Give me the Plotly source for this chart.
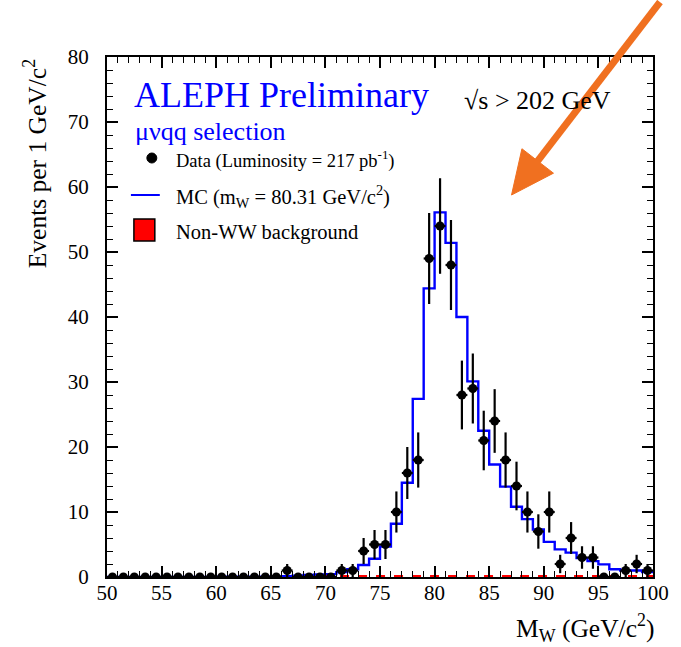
import plotly.graph_objects as go
import numpy as np

# ---------------- data ----------------
bin_low = list(range(50, 100))  # 1 GeV bins from 50 to 100
data_counts = [0]*16 + [1, 0, 0, 0, 0, 1, 1, 4, 5, 5, 10, 16, 18, 49, 54, 48, 28, 29,
                        21, 24, 18, 14, 10, 7, 10, 2, 6, 3, 3, 0, 0, 1, 2, 1]
mc_values = [0.02]*10 + [0.05]*5 + [0.1, 0.12, 0.2, 0.3, 0.4, 0.45, 0.75, 1.2, 1.85, 2.8,
                                    4.7, 8.2, 14.5, 27.4, 44.4, 56.1, 51.4, 40.0, 30.1, 22.5,
                                    17.3, 13.9, 10.8, 8.9, 7.3, 5.4, 4.25, 3.75, 2.9, 2.45,
                                    1.95, 1.2, 1.0, 1.0, 0.75]
bkg_values = [0.0]*15 + [0.15]*35
x_ticks = [50, 55, 60, 65, 70, 75, 80, 85, 90, 95, 100]
y_ticks = [0, 10, 20, 30, 40, 50, 60, 70, 80]

centers = [b + 0.5 for b in bin_low]
errs = [float(np.sqrt(c)) for c in data_counts]
edges = bin_low + [100]

FONT = "Liberation Serif"

fig = go.Figure()

# background (non-WW)
fig.add_trace(go.Scatter(x=edges, y=bkg_values + [bkg_values[-1]], mode="lines",
                         line=dict(shape="hv", color="red", width=2, dash="dash"),
                         showlegend=False, hoverinfo="skip"))
# MC histogram
fig.add_trace(go.Scatter(x=edges, y=mc_values + [mc_values[-1]], mode="lines",
                         line=dict(shape="hv", color="#0000FF", width=2.4),
                         showlegend=False))
# data
fig.add_trace(go.Scatter(x=centers, y=data_counts, mode="markers",
                         marker=dict(color="black", size=9),
                         error_y=dict(type="data", array=errs, color="black", thickness=2.2, width=0),
                         error_x=dict(type="constant", value=0.5, color="black", thickness=2.2, width=0),
                         showlegend=False))
# dummy trace so the mirrored (top/right) tick axes are drawn
fig.add_trace(go.Scatter(x=[None], y=[None], xaxis="x2", yaxis="y2", showlegend=False,
                         hoverinfo="skip"))

# ---------- geometry helpers (pixel -> paper) ----------
L, R, T, B = 107, 655, 57, 577
W, H = R - L, B - T
def px(x):
    return (x - L) / W
def py(y):
    return (B - y) / H

shapes = []
# legend symbols
shapes.append(dict(type="circle", xref="paper", yref="paper",
                   x0=px(147), x1=px(157), y0=py(163), y1=py(153),
                   fillcolor="black", line=dict(color="black", width=1)))
shapes.append(dict(type="line", xref="paper", yref="paper",
                   x0=px(131), x1=px(160), y0=py(195), y1=py(195),
                   line=dict(color="#0000FF", width=2)))
shapes.append(dict(type="rect", xref="paper", yref="paper",
                   x0=px(134), x1=px(155), y0=py(241), y1=py(219),
                   fillcolor="#FF0000", line=dict(color="black", width=1.5)))

# orange arrow overlay
tail = np.array([662.0, 2.0])
tip = np.array([513.0, 195.0])
d = (tip - tail) / np.linalg.norm(tip - tail)
perp = np.array([d[1], -d[0]])
HL, HW = 43.0, 20.0
base = tip - HL * d
c1 = base + HW * perp
c2 = base - HW * perp
line_end = tip - (HL - 4) * d
shapes.append(dict(type="line", xref="paper", yref="paper",
                   x0=px(tail[0]), y0=py(tail[1]), x1=px(line_end[0]), y1=py(line_end[1]),
                   line=dict(color="#F07020", width=7)))
path = "M {} {} L {} {} L {} {} Z".format(px(tip[0]), py(tip[1]), px(c1[0]), py(c1[1]),
                                           px(c2[0]), py(c2[1]))
shapes.append(dict(type="path", xref="paper", yref="paper", path=path,
                   fillcolor="#F07020", line=dict(color="#F07020", width=1)))

annotations = [
    dict(text="ALEPH Preliminary", x=px(132), y=py(95), font=dict(family=FONT, size=36, color="#0000FF")),
    dict(text="√s > 202 GeV", x=px(463), y=py(100), font=dict(family=FONT, size=26, color="black")),
    dict(text="μνqq selection", x=px(133), y=py(131), font=dict(family=FONT, size=26, color="#0000FF")),
    dict(text="Data (Luminosity = 217 pb<sup>-1</sup>)", x=px(174), y=py(159),
         font=dict(family=FONT, size=18.5, color="black")),
    dict(text="MC (m<sub>W</sub> = 80.31 GeV/c<sup>2</sup>)", x=px(174), y=py(196),
         font=dict(family=FONT, size=20.5, color="black")),
    dict(text="Non-WW background", x=px(174), y=py(232), font=dict(family=FONT, size=20.5, color="black")),
]
for a in annotations:
    a.update(xref="paper", yref="paper", xanchor="left", yanchor="middle", showarrow=False)

annotations.append(dict(text="M<sub>W</sub> (GeV/c<sup>2</sup>)", x=px(658), y=py(628),
                        xref="paper", yref="paper", xanchor="right", yanchor="middle",
                        showarrow=False, font=dict(family=FONT, size=25.5, color="black")))
annotations.append(dict(text="Events per 1 GeV/c<sup>2</sup>", x=px(35), y=py(164),
                        xref="paper", yref="paper", xanchor="center", yanchor="middle",
                        textangle=-90, showarrow=False, font=dict(family=FONT, size=25.5, color="black")))

tick_common = dict(showgrid=False, zeroline=False, ticks="inside", tickcolor="black")

fig.update_layout(
    width=681, height=647,
    margin=dict(l=L, r=681 - R, t=T, b=647 - B, pad=0),
    paper_bgcolor="white", plot_bgcolor="white",
    shapes=shapes, annotations=annotations,
    font=dict(family=FONT, color="black"),
    xaxis=dict(range=[50, 100], tickvals=x_ticks, ticktext=[str(t) for t in x_ticks],
               showline=True, linecolor="black", linewidth=2, mirror=True,
               ticklen=11, tickwidth=1.5, ticklabelstandoff=-4,
               minor=dict(dtick=1, ticks="inside", ticklen=6, tickwidth=1.2, tickcolor="black", showgrid=False),
               tickfont=dict(family=FONT, size=21, color="black"), **tick_common),
    yaxis=dict(range=[0, 80], tickvals=y_ticks, ticktext=[str(t) for t in y_ticks],
               showline=True, linecolor="black", linewidth=2, mirror=True,
               ticklen=11, tickwidth=1.5, ticklabelstandoff=12,
               minor=dict(dtick=2, ticks="inside", ticklen=6, tickwidth=1.2, tickcolor="black", showgrid=False),
               tickfont=dict(family=FONT, size=21, color="black"), **tick_common),
    xaxis2=dict(range=[50, 100], overlaying="x", side="top", anchor="y2", tickvals=x_ticks,
                showticklabels=False, showline=False, ticklen=11, tickwidth=1.5,
                minor=dict(dtick=1, ticks="inside", ticklen=6, tickwidth=1.2, tickcolor="black", showgrid=False),
                **tick_common),
    yaxis2=dict(range=[0, 80], overlaying="y", side="right", anchor="x2", tickvals=y_ticks,
                showticklabels=False, showline=False, ticklen=11, tickwidth=1.5,
                minor=dict(dtick=2, ticks="inside", ticklen=6, tickwidth=1.2, tickcolor="black", showgrid=False),
                **tick_common),
)

fig.write_html("out.html")
